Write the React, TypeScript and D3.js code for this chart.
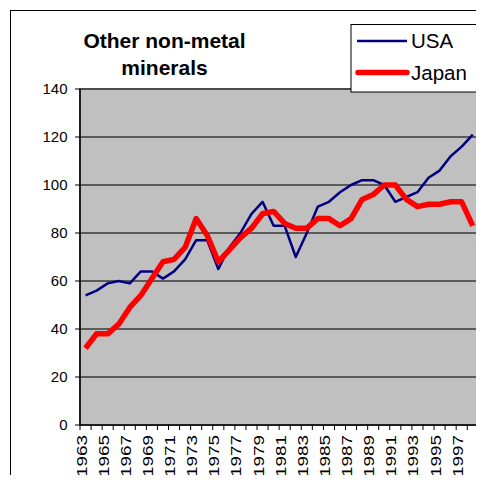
import React from "react";
import * as d3 from "d3";

// Index values, 1963–1998
const years: number[] = d3.range(1963, 1999);
const usa: number[] = [54, 56, 59, 60, 59, 64, 64, 61, 64, 69, 77, 77, 65, 74, 80, 88, 93, 83, 83, 70, 80, 91, 93, 97, 100, 102, 102, 100, 93, 95, 97, 103, 106, 112, 116, 121];
const japan: number[] = [32, 38, 38, 42, 49, 54, 61, 68, 69, 74, 86, 79, 68, 73, 78, 82, 88, 89, 84, 82, 82, 86, 86, 83, 86, 94, 96, 100, 100, 94, 91, 92, 92, 93, 93, 83];
const yTicks: number[] = [0, 20, 40, 60, 80, 100, 120, 140];
const labelYears: number[] = years.filter((y) => (y - 1963) % 2 === 0 && y < 1998);
const titleLines: string[] = ["Other non-metal", "minerals"];

const FONT = "'Liberation Sans', Arial, sans-serif";

export default function App() {
  const W = 484;
  const H = 483;
  const plot = { left: 80, right: 478.3, top: 89, bottom: 425 };

  const x = d3.scaleBand<number>().domain(years).range([plot.left, plot.right]).padding(0);
  const y = d3.scaleLinear().domain([0, 140]).range([plot.bottom, plot.top]);
  const cx = (yr: number) => (x(yr) as number) + x.bandwidth() / 2;

  const line = d3
    .line<number>()
    .x((_, i) => cx(years[i]))
    .y((v) => y(v));

  const boundaries = d3.range(0, years.length + 1).map((k) => plot.left + k * x.bandwidth());

  return (
    <div style={{ margin: -8 }}>
      <svg width={W} height={H} style={{ display: "block" }} fontFamily={FONT}>
        <rect x={0} y={0} width={W} height={H} fill="#fff" />
        {/* chart frame */}
        <rect x={10.5} y={10.5} width={500} height={500} fill="none" stroke="#000" strokeWidth={1} />

        {/* plot area */}
        <rect x={plot.left} y={plot.top} width={plot.right - plot.left} height={plot.bottom - plot.top} fill="#c0c0c0" stroke="#808080" strokeWidth={2} />
        {yTicks.filter((t) => t > 0).map((t) => (
          <line key={t} x1={plot.left} x2={plot.right} y1={y(t)} y2={y(t)} stroke="#3a3a3a" strokeWidth={1.5} />
        ))}

        {/* y axis */}
        <line x1={plot.left} x2={plot.left} y1={plot.top} y2={plot.bottom} stroke="#000" strokeWidth={1.5} />
        {yTicks.map((t) => (
          <g key={t}>
            <line x1={plot.left - 5} x2={plot.left} y1={y(t)} y2={y(t)} stroke="#000" strokeWidth={1} />
            <text x={67.5} y={y(t)} dy="0.36em" textAnchor="end" fontSize={15} fill="#000">
              {t}
            </text>
          </g>
        ))}

        {/* x axis */}
        <line x1={plot.left} x2={plot.right} y1={plot.bottom} y2={plot.bottom} stroke="#000" strokeWidth={1.5} />
        {boundaries.map((bx, k) => (
          <line key={k} x1={bx} x2={bx} y1={plot.bottom} y2={plot.bottom + 5} stroke="#000" strokeWidth={1} />
        ))}
        {labelYears.map((yr) => (
          <text
            key={yr}
            transform={`translate(${cx(yr) + 1},435) rotate(-90) scale(1.3,1)`}
            textAnchor="end"
            fontSize={14.5}
            fill="#000"
          >
            {yr}
          </text>
        ))}

        {/* series */}
        <path d={line(usa) as string} fill="none" stroke="#000080" strokeWidth={2.5} strokeLinejoin="round" />
        <path d={line(japan) as string} fill="none" stroke="#ff0000" strokeWidth={5.5} strokeLinejoin="round" />

        {/* title */}
        {titleLines.map((s, i) => (
          <text key={s} x={164.5} y={47.5 + i * 27} textAnchor="middle" fontSize={21} fontWeight="bold" fill="#000">
            {s}
          </text>
        ))}

        {/* legend */}
        <rect x={351} y={24.5} width={129} height={67.5} fill="#fff" stroke="#000" strokeWidth={1} />
        <line x1={357} x2={407} y1={41} y2={41} stroke="#000080" strokeWidth={2.5} />
        <text x={411} y={48} fontSize={20.5} fill="#000">USA</text>
        <line x1={358} x2={407} y1={72.5} y2={72.5} stroke="#ff0000" strokeWidth={5.5} strokeLinecap="round" />
        <text x={411} y={80} fontSize={20.5} fill="#000">Japan</text>
      </svg>
    </div>
  );
}
